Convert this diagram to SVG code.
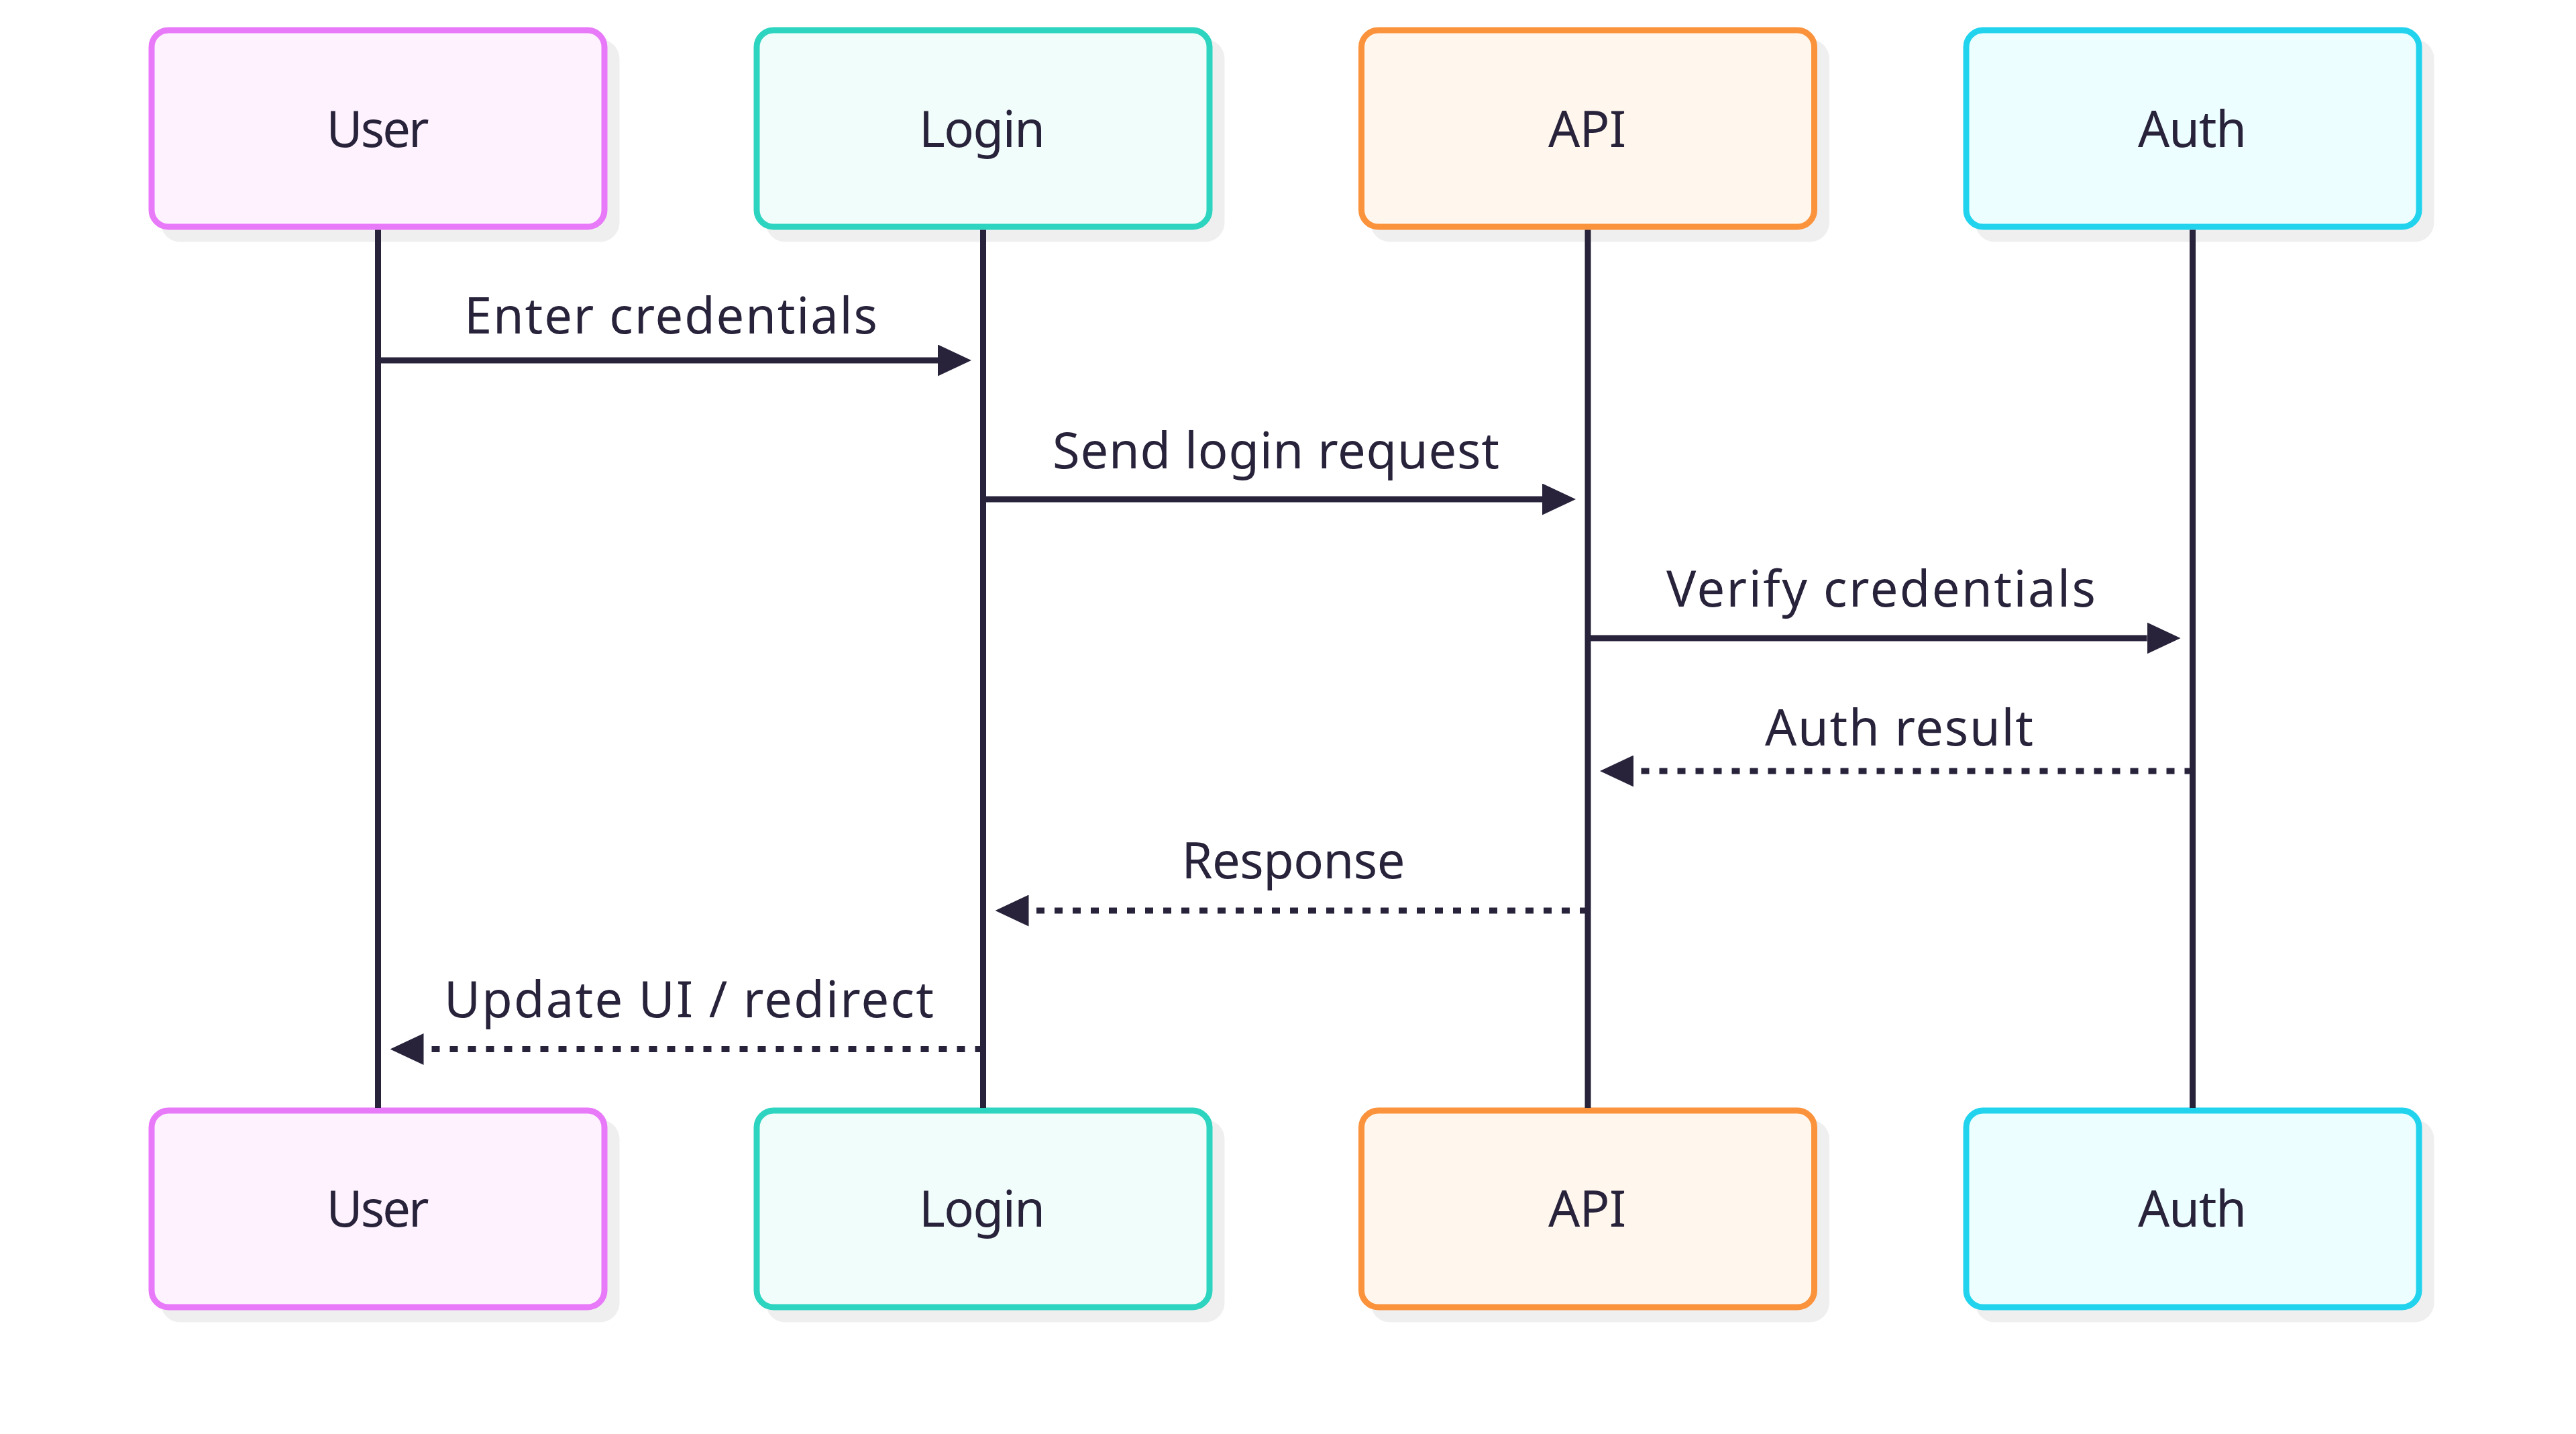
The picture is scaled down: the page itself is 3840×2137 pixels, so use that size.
<svg xmlns="http://www.w3.org/2000/svg" width="3840" height="2137" viewBox="0 0 3840 2137">
<defs>
<style>
.shadow{fill:#efefef;stroke:none}
.box{stroke-width:9}
.user{fill:#fdf2fe;stroke:#e879f9}
.login{fill:#f0fdfa;stroke:#2dd4bf}
.api{fill:#fff7ed;stroke:#fb923c}
.auth{fill:#ecfeff;stroke:#22d3ee}
.lbl{font-family:"Noto Sans","Open Sans","DejaVu Sans",sans-serif;font-size:74px;fill:#28233b;text-anchor:middle}
.life{stroke:#28233b;stroke-width:9;fill:none}
.msg{stroke:#28233b;stroke-width:9;fill:none;marker-end:url(#head)}
.dash{stroke-dasharray:12 15}
</style>
<marker id="head" markerUnits="userSpaceOnUse" markerWidth="50" markerHeight="47" refX="0" refY="23.5" orient="auto" viewBox="0 0 50 47">
<path d="M0,0 L50,23.5 L0,47 Z" fill="#28233b"/>
</marker>
</defs>
<rect width="3840" height="2137" fill="#ffffff"/>

<g id="actor-user-top">
<rect class="shadow" x="239.5" y="58.5" width="684" height="302" rx="29"/>
<rect class="box user" x="226" y="45" width="675" height="293" rx="25"/>
<text class="lbl" x="563" y="219" textLength="153">User</text>
</g>
<g id="actor-login-top">
<rect class="shadow" x="1141.5" y="58.5" width="684" height="302" rx="29"/>
<rect class="box login" x="1128" y="45" width="675" height="293" rx="25"/>
<text class="lbl" x="1464" y="219" textLength="188">Login</text>
</g>
<g id="actor-api-top">
<rect class="shadow" x="2043" y="58.5" width="684" height="302" rx="29"/>
<rect class="box api" x="2029.5" y="45" width="675" height="293" rx="25"/>
<text class="lbl" x="2366" y="219" textLength="116">API</text>
</g>
<g id="actor-auth-top">
<rect class="shadow" x="2944.5" y="58.5" width="684" height="302" rx="29"/>
<rect class="box auth" x="2931" y="45" width="675" height="293" rx="25"/>
<text class="lbl" x="3268" y="219" textLength="162">Auth</text>
</g>

<g id="actor-user-bottom">
<rect class="shadow" x="239.5" y="1668.5" width="684" height="302" rx="29"/>
<rect class="box user" x="226" y="1655" width="675" height="293" rx="25"/>
<text class="lbl" x="563" y="1828" textLength="153">User</text>
</g>
<g id="actor-login-bottom">
<rect class="shadow" x="1141.5" y="1668.5" width="684" height="302" rx="29"/>
<rect class="box login" x="1128" y="1655" width="675" height="293" rx="25"/>
<text class="lbl" x="1464" y="1828" textLength="188">Login</text>
</g>
<g id="actor-api-bottom">
<rect class="shadow" x="2043" y="1668.5" width="684" height="302" rx="29"/>
<rect class="box api" x="2029.5" y="1655" width="675" height="293" rx="25"/>
<text class="lbl" x="2366" y="1828" textLength="116">API</text>
</g>
<g id="actor-auth-bottom">
<rect class="shadow" x="2944.5" y="1668.5" width="684" height="302" rx="29"/>
<rect class="box auth" x="2931" y="1655" width="675" height="293" rx="25"/>
<text class="lbl" x="3268" y="1828" textLength="162">Auth</text>
</g>

<g id="lifelines">
<line class="life" x1="563.5" y1="342.5" x2="563.5" y2="1651"/>
<line class="life" x1="1465.5" y1="342.5" x2="1465.5" y2="1651"/>
<line class="life" x1="2367" y1="342.5" x2="2367" y2="1651"/>
<line class="life" x1="3268.5" y1="342.5" x2="3268.5" y2="1651"/>
</g>

<g id="messages">
<line class="msg" x1="563.5" y1="537" x2="1398" y2="537"/>
<text class="lbl" x="1000" y="497" textLength="616">Enter credentials</text>
<line class="msg" x1="1465.5" y1="744" x2="2299" y2="744"/>
<text class="lbl" x="1902" y="697.5" textLength="666">Send login request</text>
<line class="msg" x1="2367" y1="951" x2="3200.5" y2="951"/>
<text class="lbl" x="2804" y="904" textLength="640">Verify credentials</text>
<line class="msg dash" x1="3268.5" y1="1149" x2="2435" y2="1149"/>
<text class="lbl" x="2831" y="1110.5" textLength="400">Auth result</text>
<line class="msg dash" x1="2367" y1="1357" x2="1533.5" y2="1357"/>
<text class="lbl" x="1928" y="1309" textLength="333">Response</text>
<line class="msg dash" x1="1465.5" y1="1563.5" x2="631.5" y2="1563.5"/>
<text class="lbl" x="1027" y="1516" textLength="730">Update UI / redirect</text>
</g>
</svg>
